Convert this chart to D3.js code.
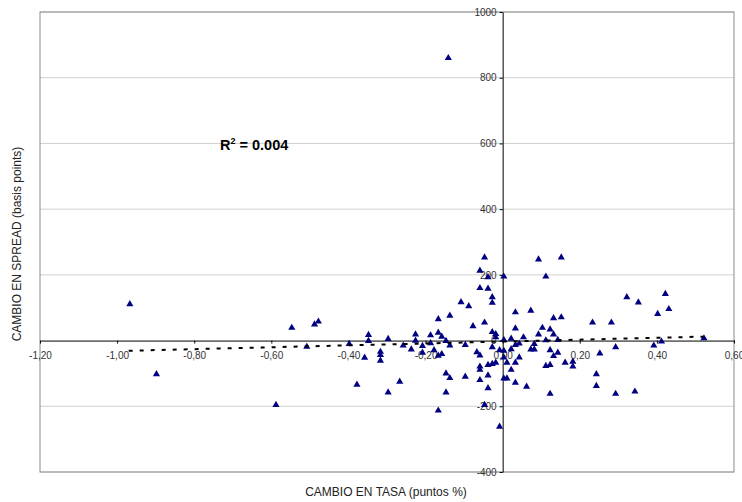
<!DOCTYPE html>
<html>
<head>
<meta charset="utf-8">
<script src="https://cdn.jsdelivr.net/npm/d3@7"></script>
<style>
  body { margin: 0; background: #fff; }
  svg { font-family: "Liberation Sans", Arial, sans-serif; }
</style>
</head>
<body>
<svg id="chart" width="742" height="502"></svg>
<script>
// cambio en tasa (puntos %) vs cambio en spread (basis points)
const tasa = [
  -0.141, -0.967, -0.898, -0.588, -0.547, -0.488, -0.478, -0.508, -0.398, -0.348,
  -0.348, -0.358, -0.378, -0.317, -0.317, -0.317, -0.297, -0.297, -0.267, -0.258,
  -0.237, -0.226, -0.226, -0.208, -0.208, -0.187, -0.187, -0.178, -0.167, -0.167,
  -0.167, -0.158, -0.158, -0.147, -0.147, -0.147, -0.167, -0.137, -0.137, -0.137,
  -0.108, -0.097, -0.097, -0.088, -0.077, -0.067, -0.059, -0.059, -0.059, -0.059,
  -0.059, -0.059, -0.047, -0.047, -0.047, -0.038, -0.038, -0.038, -0.038, -0.038,
  -0.027, -0.027, -0.027, -0.027, -0.027, -0.018, -0.018, -0.018, -0.008, -0.008,
  0.003, 0.003, 0.003, 0.003, 0.003, 0.011, 0.011, 0.022, 0.022, 0.022,
  0.033, 0.033, 0.033, 0.033, 0.033, 0.043, 0.043, 0.054, 0.062, 0.073,
  0.073, 0.082, 0.082, 0.093, 0.093, 0.103, 0.112, 0.112, 0.112, 0.123,
  0.123, 0.123, 0.123, 0.132, 0.132, 0.132, 0.143, 0.143, 0.152, 0.152,
  0.162, 0.182, 0.182, 0.233, 0.243, 0.243, 0.252, 0.282, 0.293, 0.293,
  0.322, 0.343, 0.352, 0.392, 0.402, 0.412, 0.422, 0.431, 0.522
];
const spread = [
  860, 111, -102, -196, 39, 49, 58, -19, -10, 17,
  -1, -52, -134, -34, -44, -61, 5, -158, -125, -15,
  -27, 19, 0, -16, -37, 16, -8, -29, 65, 24,
  -46, -41, 12, -1, -100, -158, -213, 76, -15, -114,
  117, -13, -110, 105, 44, -35, 213, 160, -45, -79,
  -89, -120, 253, 55, -196, 193, 158, -74, -106, -145,
  132, 115, 26, -20, -71, 20, 10, -67, -29, -262,
  195, 2, -31, -51, -115, -67, -115, 6, -26, -89,
  86, 37, -13, -67, -128, -9, -51, 10, -140, 91,
  -27, -10, -27, 247, 19, 39, 195, 1, -77, 34,
  -29, -74, -162, 68, 19, -47, 2, -37, 253, 71,
  -67, -64, -79, 55, -102, -138, -39, 55, -20, -162,
  132, -155, 116, -15, 81, -3, 142, 96, 7
];

// linea de tendencia
const trendX = [-0.97, 0.52];
const trendY = [-31, 12];
const r2Label = "0.004";

const xTicks = [-1.2, -1.0, -0.8, -0.6, -0.4, -0.2, 0, 0.2, 0.4, 0.6];
const yTicks = [-400, -200, 0, 200, 400, 600, 800, 1000];

const svg = d3.select("#chart");
const plotLeft = 40, plotRight = 734, plotTop = 12, plotBottom = 472;

const x = d3.scaleLinear().domain([-1.2, 0.6]).range([plotLeft, plotRight]);
const y = d3.scaleLinear().domain([-400, 1000]).range([plotBottom, plotTop]);

// gridlines
svg.append("g").selectAll("line")
  .data(yTicks.filter(d => d !== 0))
  .join("line")
  .attr("x1", plotLeft).attr("x2", plotRight)
  .attr("y1", d => y(d)).attr("y2", d => y(d))
  .attr("stroke", "#d0d0d0").attr("stroke-width", 1);

// plot border
svg.append("rect")
  .attr("x", plotLeft).attr("y", plotTop)
  .attr("width", plotRight - plotLeft).attr("height", plotBottom - plotTop)
  .attr("fill", "none").attr("stroke", "#8c8c8c").attr("stroke-width", 1);

// x axis through y = 0
const fmtX = d => d3.format(".2f")(d).replace(".", ",").replace("−", "-");
const xAxis = svg.append("g")
  .attr("transform", `translate(0,${y(0)})`)
  .call(d3.axisBottom(x).tickValues(xTicks).tickFormat(fmtX).tickSize(3).tickPadding(8).tickSizeOuter(0));
xAxis.select(".domain").attr("stroke", "#000");
xAxis.selectAll("line").attr("stroke", "#000");
xAxis.selectAll("text").attr("font-size", 10).attr("fill", "#333")
  .attr("font-family", "'Liberation Sans', Arial, sans-serif");

// y axis through x = 0
const yAxis = svg.append("g")
  .attr("transform", `translate(${x(0)},0)`)
  .call(d3.axisLeft(y).tickValues(yTicks).tickFormat(d => String(d)).tickSize(3).tickPadding(3).tickSizeOuter(0));
yAxis.select(".domain").attr("stroke", "#000");
yAxis.selectAll("line").attr("stroke", "#000");
yAxis.selectAll("text").attr("font-size", 10).attr("fill", "#333")
  .attr("font-family", "'Liberation Sans', Arial, sans-serif");

// points
const tri = d3.symbol().type(d3.symbolTriangle).size(22);
svg.append("g").selectAll("path")
  .data(d3.zip(tasa, spread))
  .join("path")
  .attr("d", tri)
  .attr("transform", d => `translate(${x(d[0])},${y(d[1])})`)
  .attr("fill", "#000080");

// trend line
svg.append("path")
  .datum(d3.zip(trendX, trendY))
  .attr("d", d3.line().x(d => x(d[0])).y(d => y(d[1])))
  .attr("fill", "none").attr("stroke", "#000")
  .attr("stroke-width", 2).attr("stroke-dasharray", "4,7");

// R2 label
const r2 = svg.append("text")
  .attr("x", 220).attr("y", 150)
  .attr("font-size", 14.5).attr("font-weight", "bold").attr("fill", "#000");
r2.append("tspan").text("R");
r2.append("tspan").attr("font-size", 9).attr("dy", -6).text("2");
r2.append("tspan").attr("dy", 6).text(" = " + r2Label);

// axis titles
svg.append("text")
  .attr("x", 386).attr("y", 496)
  .attr("text-anchor", "middle").attr("font-size", 12).attr("fill", "#222")
  .text("CAMBIO EN TASA (puntos %)");

svg.append("text")
  .attr("transform", "translate(21,244) rotate(-90)")
  .attr("text-anchor", "middle").attr("font-size", 12).attr("fill", "#222")
  .text("CAMBIO EN SPREAD (basis points)");
</script>
</body>
</html>
